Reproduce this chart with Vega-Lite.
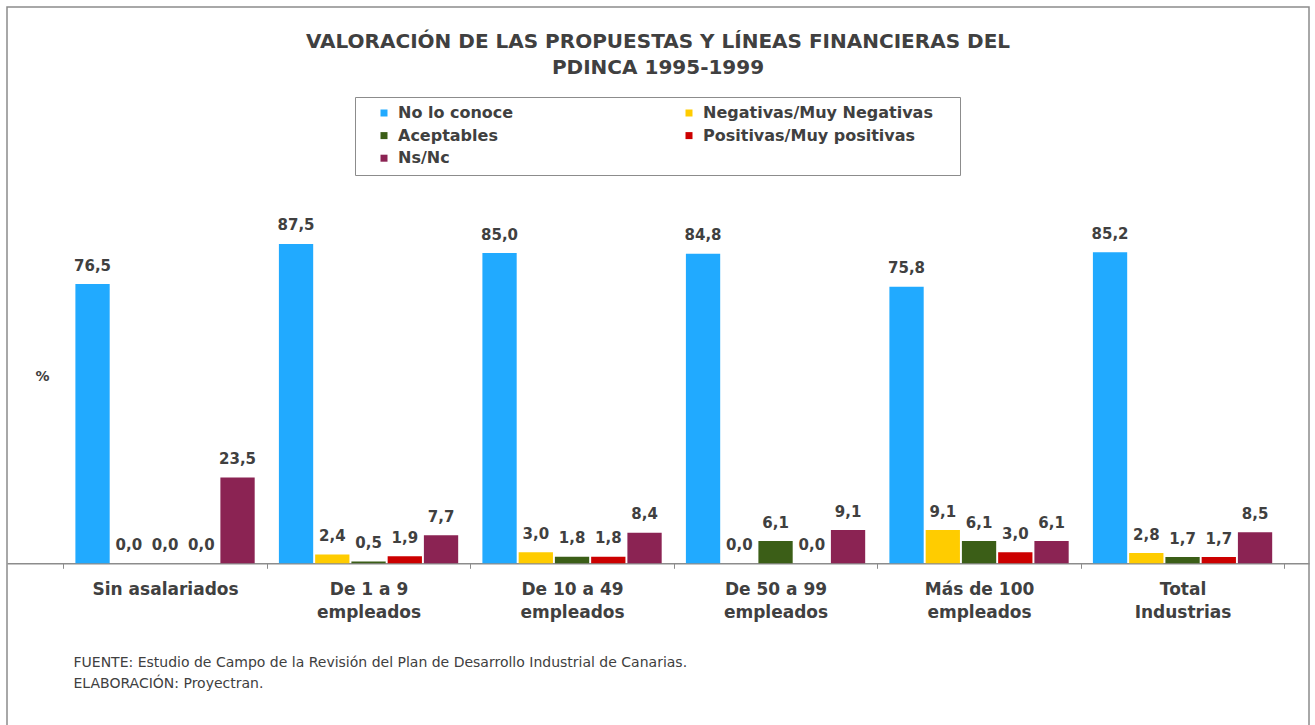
{
  "$schema": "https://vega.github.io/schema/vega-lite/v6.json",
  "width": 1302,
  "height": 723,
  "autosize": {"type": "none"},
  "padding": {"left": 7, "top": 7, "right": 6, "bottom": -5},
  "background": "white",
  "config": {
    "view": {"stroke": "#8c8c8c", "strokeWidth": 1.5},
    "locale": {"number": {"decimal": ",", "thousands": ".", "grouping": [3], "currency": ["", " €"]}}
  },
  "title": {
    "text": ["VALORACIÓN DE LAS PROPUESTAS Y LÍNEAS FINANCIERAS DEL", "PDINCA 1995-1999"],
    "font": "DejaVu Sans",
    "fontSize": 20,
    "fontWeight": "bold",
    "color": "#404040",
    "anchor": "middle",
    "offset": -71,
    "lineHeight": 26
  },
  "data": {
    "values": [
      {"grupo": "Sin asalariados", "serie": "No lo conoce", "valor": 76.5},
      {"grupo": "Sin asalariados", "serie": "Negativas/Muy Negativas", "valor": 0.0},
      {"grupo": "Sin asalariados", "serie": "Aceptables", "valor": 0.0},
      {"grupo": "Sin asalariados", "serie": "Positivas/Muy positivas", "valor": 0.0},
      {"grupo": "Sin asalariados", "serie": "Ns/Nc", "valor": 23.5},
      {"grupo": "De 1 a 9 empleados", "serie": "No lo conoce", "valor": 87.5},
      {"grupo": "De 1 a 9 empleados", "serie": "Negativas/Muy Negativas", "valor": 2.4},
      {"grupo": "De 1 a 9 empleados", "serie": "Aceptables", "valor": 0.5},
      {"grupo": "De 1 a 9 empleados", "serie": "Positivas/Muy positivas", "valor": 1.9},
      {"grupo": "De 1 a 9 empleados", "serie": "Ns/Nc", "valor": 7.7},
      {"grupo": "De 10 a 49 empleados", "serie": "No lo conoce", "valor": 85.0},
      {"grupo": "De 10 a 49 empleados", "serie": "Negativas/Muy Negativas", "valor": 3.0},
      {"grupo": "De 10 a 49 empleados", "serie": "Aceptables", "valor": 1.8},
      {"grupo": "De 10 a 49 empleados", "serie": "Positivas/Muy positivas", "valor": 1.8},
      {"grupo": "De 10 a 49 empleados", "serie": "Ns/Nc", "valor": 8.4},
      {"grupo": "De 50 a 99 empleados", "serie": "No lo conoce", "valor": 84.8},
      {"grupo": "De 50 a 99 empleados", "serie": "Negativas/Muy Negativas", "valor": 0.0},
      {"grupo": "De 50 a 99 empleados", "serie": "Aceptables", "valor": 6.1},
      {"grupo": "De 50 a 99 empleados", "serie": "Positivas/Muy positivas", "valor": 0.0},
      {"grupo": "De 50 a 99 empleados", "serie": "Ns/Nc", "valor": 9.1},
      {"grupo": "Más de 100 empleados", "serie": "No lo conoce", "valor": 75.8},
      {"grupo": "Más de 100 empleados", "serie": "Negativas/Muy Negativas", "valor": 9.1},
      {"grupo": "Más de 100 empleados", "serie": "Aceptables", "valor": 6.1},
      {"grupo": "Más de 100 empleados", "serie": "Positivas/Muy positivas", "valor": 3.0},
      {"grupo": "Más de 100 empleados", "serie": "Ns/Nc", "valor": 6.1},
      {"grupo": "Total Industrias", "serie": "No lo conoce", "valor": 85.2},
      {"grupo": "Total Industrias", "serie": "Negativas/Muy Negativas", "valor": 2.8},
      {"grupo": "Total Industrias", "serie": "Aceptables", "valor": 1.7},
      {"grupo": "Total Industrias", "serie": "Positivas/Muy positivas", "valor": 1.7},
      {"grupo": "Total Industrias", "serie": "Ns/Nc", "valor": 8.5}
    ]
  },
  "encoding": {
    "x": {
      "field": "grupo",
      "type": "nominal",
      "sort": ["Sin asalariados", "De 1 a 9 empleados", "De 10 a 49 empleados", "De 50 a 99 empleados", "Más de 100 empleados", "Total Industrias"],
      "scale": {"paddingInner": 0, "paddingOuter": 0.199, "align": 0.695},
      "axis": {
        "offset": -166.7,
        "tickBand": "extent",
        "tickSize": 5,
        "tickColor": "#8c8c8c",
        "domainColor": "#8c8c8c",
        "domainWidth": 1.5,
        "labelAngle": 0,
        "labelFont": "DejaVu Sans",
        "labelFontSize": 17,
        "labelFontWeight": "bold",
        "labelColor": "#404040",
        "labelPadding": 13,
        "labelLineHeight": 23,
        "labelLimit": 300,
        "labelExpr": "indexof(datum.label, ' empleados') > 0 ? [replace(datum.label, ' empleados', ''), 'empleados'] : (datum.label == 'Total Industrias' ? ['Total', 'Industrias'] : datum.label)",
        "title": ["FUENTE: Estudio de Campo de la Revisión del Plan de Desarrollo Industrial de Canarias.", "ELABORACIÓN: Proyectran."],
        "titleFont": "DejaVu Sans",
        "titleFontSize": 14,
        "titleFontWeight": "normal",
        "titleColor": "#404040",
        "titleAnchor": "start",
        "titleAlign": "left",
        "titleBaseline": "alphabetic",
        "titleX": 66,
        "titleY": 103,
        "titleLineHeight": 21
      }
    },
    "xOffset": {
      "field": "serie",
      "type": "nominal",
      "sort": ["No lo conoce", "Negativas/Muy Negativas", "Aceptables", "Positivas/Muy positivas", "Ns/Nc"],
      "scale": {"paddingInner": 0.054, "paddingOuter": 0.334}
    },
    "y": {
      "field": "valor",
      "type": "quantitative",
      "scale": {"domain": [-45.67, 152.41], "nice": false, "zero": false},
      "axis": {
        "labels": false,
        "ticks": false,
        "domain": false,
        "grid": false,
        "title": "%",
        "titleFont": "DejaVu Sans",
        "titleFontSize": 14,
        "titleFontWeight": "bold",
        "titleColor": "#404040",
        "titleAngle": 0,
        "titleAlign": "center",
        "titleBaseline": "middle",
        "titleX": 35,
        "titleY": 369
      }
    }
  },
  "layer": [
    {
      "mark": {"type": "bar"},
      "encoding": {
        "y2": {"datum": 0},
        "color": {
          "field": "serie",
          "type": "nominal",
          "scale": {
            "domain": ["No lo conoce", "Aceptables", "Ns/Nc", "Negativas/Muy Negativas", "Positivas/Muy positivas"],
            "range": ["#21AAFF", "#3B5E17", "#8B2353", "#FFCC00", "#CC0000"]
          },
          "legend": {
            "orient": "none",
            "legendX": 348,
            "legendY": 90,
            "title": "i",
            "titleOrient": "right",
            "titleOpacity": 0,
            "titleFontSize": 4,
            "titlePadding": 17,
            "columns": 2,
            "symbolType": "square",
            "symbolSize": 49,
            "symbolStrokeWidth": 0,
            "labelFont": "DejaVu Sans",
            "labelFontSize": 16,
            "labelFontWeight": "bold",
            "labelColor": "#404040",
            "labelLimit": 400,
            "strokeColor": "#8c8c8c",
            "fillColor": "white",
            "padding": 8,
            "rowPadding": 6.6,
            "columnPadding": 154,
            "symbolOffset": 13,
            "labelOffset": 6
          }
        }
      }
    },
    {
      "mark": {"type": "text", "font": "DejaVu Sans", "fontSize": 15, "fontWeight": "bold", "color": "#404040", "baseline": "alphabetic", "dy": -13.5},
      "encoding": {
        "text": {"field": "valor", "type": "quantitative", "format": ".1f"}
      }
    }
  ]
}
